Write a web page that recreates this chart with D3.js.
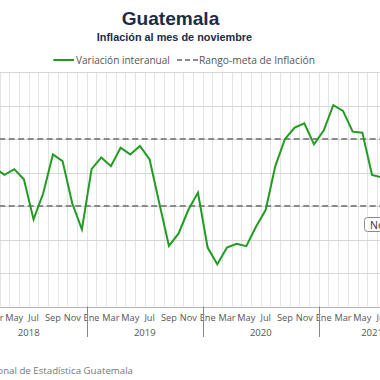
<!DOCTYPE html>
<html><head><meta charset="utf-8">
<script src="https://cdn.jsdelivr.net/npm/d3@7/dist/d3.min.js"></script>
<style>html,body{margin:0;padding:0;background:#fff;overflow:hidden}</style>
</head><body>
<svg id="c" width="380" height="380"></svg>
<script>
const years = [2018, 2019, 2020, 2021];
const monthNames = ["Ene","Feb","Mar","Abr","May","Jun","Jul","Ago","Sep","Oct","Nov","Dic"];
const monthsPerYear = [12, 12, 12, 11];
const inflation = [
  4.71, 4.10, 4.13, 3.93, 4.10, 3.80, 2.60, 3.38, 4.54, 4.34, 3.08, 2.30,
  4.10, 4.45, 4.19, 4.74, 4.54, 4.79, 4.39, 3.09, 1.81, 2.18, 2.88, 3.40,
  1.76, 1.26, 1.76, 1.87, 1.80, 2.38, 2.88, 4.19, 5.00, 5.34, 5.47, 4.84,
  5.25, 6.01, 5.84, 5.22, 5.19, 3.93, 3.85, 3.67, 3.42, 2.91, 2.91
];
const targetRange = [3, 5];
const yTicks = [0, 1, 2, 3, 4, 5, 6, 7];
const legendLabels = ["Variación interanual", "Rango-meta de Inflación"];
const noteLabel = "Nov 2021: 2.91%";

const months = [];
years.forEach((yr, yi) => { for (let m = 0; m < monthsPerYear[yi]; m++) months.push({y: yr, m, key: yr + "-" + m}); });
const data = months.map((d, i) => ({...d, v: inflation[i]}));

const svg = d3.select("#c");
const fontAx = "'Open Sans', sans-serif";
const pLeft = -29.3, pRight = 425.2, pTop = 72, pBottom = 306.5;

function fitWidth(sel, target) {
  const fs = +sel.attr("font-size");
  const w = sel.node().getComputedTextLength();
  if (w > 0) sel.attr("font-size", (fs * target / w).toFixed(2));
}

const x = d3.scaleBand().domain(months.map(d => d.key)).range([pLeft, pRight]).paddingInner(0).paddingOuter(0);
const y = d3.scaleLinear().domain([0, 7]).range([pBottom, pTop]);
const bw = x.bandwidth();
const cx = k => x(k) + bw / 2;

// vertical gridlines
const g = svg.append("g");
g.selectAll("line.v").data(months).join("line")
  .attr("x1", d => Math.round(x(d.key)) + 0.5).attr("x2", d => Math.round(x(d.key)) + 0.5)
  .attr("y1", pTop).attr("y2", pBottom)
  .attr("stroke", "#e3e3e3").attr("stroke-width", 1);
// horizontal gridlines
g.selectAll("line.h").data(yTicks).join("line")
  .attr("x1", pLeft).attr("x2", pRight)
  .attr("y1", d => Math.round(y(d)) + 0.5).attr("y2", d => Math.round(y(d)) + 0.5)
  .attr("stroke", d => d === 0 ? "#b5b5b5" : "#d6d6d6").attr("stroke-width", 1);

// target range dashed
g.selectAll("line.t").data(targetRange).join("line")
  .attr("x1", pLeft).attr("x2", pRight)
  .attr("y1", d => y(d)).attr("y2", d => y(d))
  .attr("stroke", "#8a8a8a").attr("stroke-width", 2).attr("stroke-dasharray", "6,3.5");

// series line
const line = d3.line().x(d => cx(d.key)).y(d => y(d.v));
svg.append("path").datum(data).attr("d", line)
  .attr("fill", "none").attr("stroke", "#229b22").attr("stroke-width", 2).attr("stroke-linejoin", "miter");

// x axis month labels
const xAxis = d3.axisBottom(x).tickSize(0).tickPadding(6)
  .tickFormat(k => { const m = +k.split("-")[1]; return m % 2 === 0 ? monthNames[m] : ""; });
const ax = svg.append("g").attr("transform", `translate(0,${pBottom})`).call(xAxis);
ax.select(".domain").remove();
ax.selectAll("text").attr("font-family", fontAx).attr("font-size", 9.2)
  .attr("fill", "#555").attr("dy", "0.72em").attr("y", 7.5);

// year separators and labels
const yearStart = years.map((yr) => months.find(d => d.y === yr));
svg.selectAll("line.ys").data(yearStart.slice(1)).join("line")
  .attr("x1", d => Math.round(x(d.key)) + 0.5).attr("x2", d => Math.round(x(d.key)) + 0.5)
  .attr("y1", pBottom).attr("y2", 337)
  .attr("stroke", "#888").attr("stroke-width", 1);
svg.selectAll("text.yr").data(years).join("text")
  .attr("x", yr => { const ms = months.filter(d => d.y === yr); return (x(ms[0].key) + x(ms[ms.length - 1].key) + bw) / 2; })
  .attr("y", 336).attr("text-anchor", "middle")
  .attr("font-family", fontAx).attr("font-size", 9.5).attr("fill", "#555").text(d => d);

// title
const t1 = svg.append("text").attr("x", 170.5).attr("y", 25).attr("text-anchor", "middle")
  .attr("font-family", "'Liberation Sans', Arial, sans-serif").attr("font-weight", "bold").attr("font-size", 19)
  .attr("fill", "#1c2b4a").text("Guatemala");
fitWidth(t1, 97.6);
const t2 = svg.append("text").attr("x", 174.5).attr("y", 40.7).attr("text-anchor", "middle")
  .attr("font-family", "'Liberation Sans', Arial, sans-serif").attr("font-weight", "bold").attr("font-size", 11)
  .attr("fill", "#1c2b4a").text("Inflación al mes de noviembre");
fitWidth(t2, 155.6);

// legend
const lg = svg.append("g");
lg.append("line").attr("x1", 53.3).attr("x2", 74).attr("y1", 60).attr("y2", 60).attr("stroke", "#229b22").attr("stroke-width", 2);
const l1 = lg.append("text").attr("x", 76).attr("y", 63.5).attr("font-family", fontAx).attr("font-size", 10.5).attr("fill", "#555").text(legendLabels[0]);
fitWidth(l1, 94);
lg.append("line").attr("x1", 177).attr("x2", 199).attr("y1", 60).attr("y2", 60).attr("stroke", "#8a8a8a").attr("stroke-width", 2).attr("stroke-dasharray", "5,3");
const l2 = lg.append("text").attr("x", 199).attr("y", 63.5).attr("font-family", fontAx).attr("font-size", 10.5).attr("fill", "#555").text(legendLabels[1]);
fitWidth(l2, 116);

// note box
const nb = svg.append("g");
nb.append("rect").attr("x", 364.5).attr("y", 217.5).attr("width", 90).attr("height", 14).attr("rx", 3)
  .attr("fill", "#fff").attr("stroke", "#8a8a8a");
nb.append("text").attr("x", 370).attr("y", 228.5).attr("font-family", fontAx).attr("font-size", 10.5).attr("fill", "#333").text(noteLabel);

// source
svg.append("text").attr("x", 133).attr("y", 374).attr("text-anchor", "end")
  .attr("font-family", fontAx).attr("font-size", 9.7).attr("fill", "#777")
  .text("Fuente: Instituto Nacional de Estadística Guatemala");
</script>
</body></html>
